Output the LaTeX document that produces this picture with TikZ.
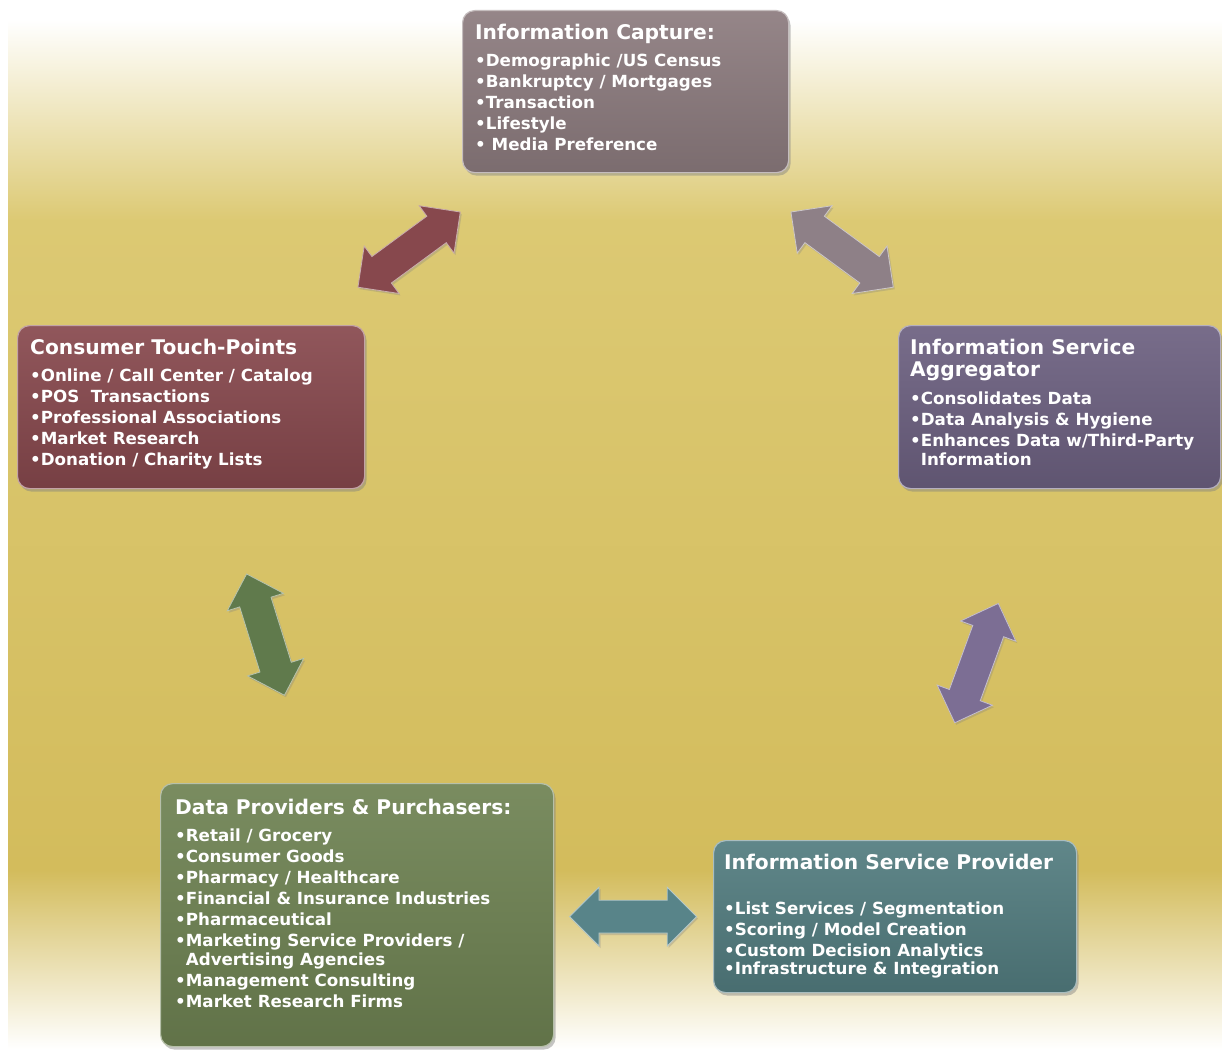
\documentclass[tikz,border=0pt]{standalone}
\usepackage{fontspec}
\setmainfont{DejaVu Sans}
\usepackage{xcolor}
\definecolor{goldbg}{RGB}{220,201,115}
\definecolor{golddark}{RGB}{211,188,92}
\definecolor{capturecolor}{RGB}{140,123,126}
\definecolor{touchcolor}{RGB}{135,72,77}
\definecolor{aggrcolor}{RGB}{108,96,128}
\definecolor{datacolor}{RGB}{110,130,82}
\definecolor{providercolor}{RGB}{82,124,127}
\definecolor{arrowgray}{RGB}{142,128,135}
\definecolor{arrowgreen}{RGB}{96,122,76}
\definecolor{arrowpurple}{RGB}{124,110,148}
\definecolor{arrowteal}{RGB}{88,132,137}
\usepackage{tikz}
\usetikzlibrary{shapes.arrows, shadows, calc}

\newcommand{\boxhead}[1]{{\fontsize{20.2}{24}\selectfont #1}}

\tikzset{
  infobox/.style={rectangle, rounded corners=12pt, anchor=north west,
    inner sep=0pt, top color=#1!92!white, bottom color=#1!88!black,
    draw=#1!50!white, line width=1.2pt,
    drop shadow={opacity=.45, shadow xshift=2pt, shadow yshift=-3pt}},
  infotext/.style={anchor=north west, inner sep=0pt, align=left, text=white,
    font=\bfseries\fontsize{16.7}{21}\selectfont},
  twoway/.style={double arrow, fill=#1, draw=#1!45!white, line width=.8pt,
    inner xsep=0pt, inner ysep=16pt, text height=0pt, text depth=0pt,
    minimum width=0pt, minimum height=127pt,
    double arrow head extend=13pt, double arrow tip angle=90,
    drop shadow={opacity=.3, shadow xshift=1.5pt, shadow yshift=-2pt}}
}

\begin{document}
\begin{tikzpicture}[x=1pt, y=-1pt]
  % background
  \fill[white] (0,0) rectangle (1222,1049);
  \fill[top color=white, bottom color=goldbg] (8,20) rectangle (1222,221);
  \fill[top color=goldbg, bottom color=golddark] (8,220) rectangle (1222,871);
  \fill[top color=golddark, bottom color=white] (8,870) rectangle (1222,1049);
  \useasboundingbox (0,0) rectangle (1222,1049);

  % boxes
  \node[infobox=capturecolor, minimum width=326pt, minimum height=162pt]
    (capture) at (462,10) {};
  \node[infobox=touchcolor, minimum width=347pt, minimum height=163pt]
    (touch) at (17,325) {};
  \node[infobox=aggrcolor, minimum width=322pt, minimum height=163pt]
    (aggr) at (898,325) {};
  \node[infobox=datacolor, minimum width=393pt, minimum height=263pt]
    (dataprov) at (160,783) {};
  \node[infobox=providercolor, minimum width=363pt, minimum height=152pt]
    (provider) at (713,840) {};

  \node[infotext] (capture-txt) at ([shift={(13,14)}]capture.north west) {%
    \boxhead{Information Capture:}\\[5.5pt]
    •Demographic /US Census\\
    •Bankruptcy / Mortgages\\
    •Transaction\\
    •Lifestyle\\
    • Media Preference};
  \node[infotext] (touch-txt) at ([shift={(13,14)}]touch.north west) {%
    \boxhead{Consumer Touch-Points}\\[5.5pt]
    •Online / Call Center / Catalog\\
    •POS\ \ Transactions\\
    •Professional Associations\\
    •Market Research\\
    •Donation / Charity Lists};
  \node[infotext] (aggr-txt) at ([shift={(12,14)}]aggr.north west) {%
    \boxhead{Information Service}\\[1pt]
    \boxhead{Aggregator}\\[6.5pt]
    •Consolidates Data\\
    •Data Analysis \& Hygiene\\
    •Enhances Data w/Third-Party\\[-2pt]
    \hphantom{•}Information};
  \node[infotext] (dataprov-txt) at ([shift={(15,16)}]dataprov.north west) {%
    \boxhead{Data Providers \& Purchasers:}\\[5.5pt]
    •Retail / Grocery\\
    •Consumer Goods\\
    •Pharmacy / Healthcare\\
    •Financial \& Insurance Industries\\
    •Pharmaceutical\\
    •Marketing Service Providers /\\[-2pt]
    \hphantom{•}Advertising Agencies\\
    •Management Consulting\\
    •Market Research Firms};
  \node[infotext] (provider-txt) at ([shift={(11,14)}]provider.north west) {%
    \boxhead{Information Service Provider}\\[23.5pt]
    •List Services / Segmentation\\
    •Scoring / Model Creation\\
    •Custom Decision Analytics\\[-3pt]
    •Infrastructure \& Integration};

  % two-way arrows between the boxes
  \path ([shift={(-7,-38)}]touch.north east) -- ([shift={(-2,39)}]capture.south west)
    node[twoway=touchcolor, midway, sloped] (touch-capture) {};
  \path ([shift={(2,39)}]capture.south east) -- ([shift={(-5,-38)}]aggr.north west)
    node[twoway=arrowgray, midway, sloped] (capture-aggr) {};
  \path ([shift={(100,115)}]aggr.south west) -- ([shift={(242,-118)}]provider.north west)
    node[twoway=arrowpurple, midway, sloped] (aggr-provider) {};
  \path ([shift={(17,1.5)}]dataprov.east) -- ([shift={(-18,0)}]provider.west)
    node[twoway=arrowteal, midway, sloped] (dataprov-provider) {};
  \path ([shift={(230,86)}]touch.south west) -- ([shift={(124,-89)}]dataprov.north west)
    node[twoway=arrowgreen, midway, sloped] (touch-dataprov) {};
\end{tikzpicture}
\end{document}
